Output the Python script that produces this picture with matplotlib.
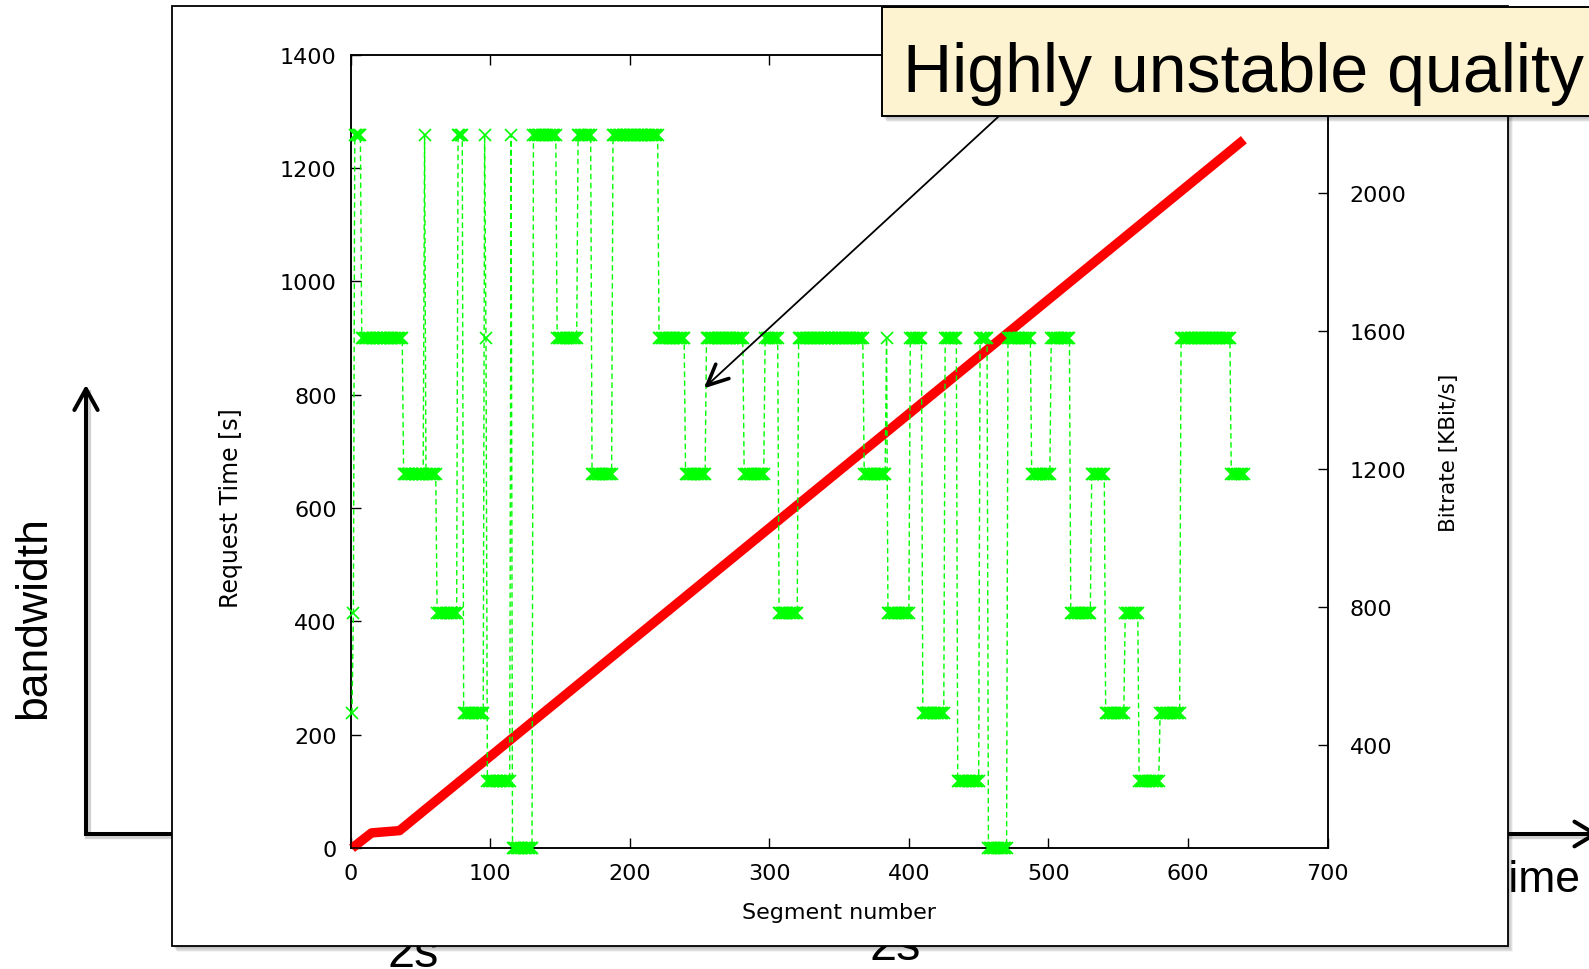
import numpy as np
import matplotlib

matplotlib.use("Agg")
import matplotlib.pyplot as plt
from matplotlib.patches import Rectangle
from matplotlib.lines import Line2D

W, H = 1589, 970

# request time of each segment (breakpoints of the red curve)
req_segments = [1, 15, 35, 640]
req_times = [0, 27, 31, 1250]

# selected bitrate, run-length coded: first segment of each run and its bitrate
run_starts = [1, 2, 3, 8, 38, 53, 54, 62, 77, 81, 96, 97, 98, 115, 116, 131,
              148, 163, 173, 188, 221, 240, 255, 282, 297, 307, 321, 368, 384,
              385, 401, 410, 426, 435, 451, 457, 471, 488, 502, 516, 531, 541,
              555, 565, 580, 595, 631]
run_rates = [491, 781, 2168, 1578, 1184, 2168, 1184, 781, 2168, 491, 2168, 1578,
             294, 2168, 100, 2168, 1578, 2168, 1184, 2168, 1578, 1184, 1578, 1184,
             1578, 781, 1578, 1184, 1578, 781, 1578, 491, 1578, 294, 1578, 100,
             1578, 1184, 1578, 781, 1184, 491, 781, 294, 491, 1578, 1184]
last_segment = 640

x_ticks = [0, 100, 200, 300, 400, 500, 600, 700]
y_ticks = [0, 200, 400, 600, 800, 1000, 1200, 1400]
y2_ticks = [400, 800, 1200, 1600, 2000]

plt.rcParams["font.family"] = ["DejaVu Sans"]
SLIDE_FONT = ["Liberation Sans", "DejaVu Sans"]


def pixel_layer(fig, zorder):
    a = fig.add_axes([0, 0, 1, 1], zorder=zorder)
    a.set_xlim(0, W)
    a.set_ylim(H, 0)
    a.axis("off")
    a.patch.set_visible(False)
    return a


def soft_shadow(a, x, y, w, h, zorder, steps=7):
    for i in range(steps, 0, -1):
        a.add_patch(Rectangle((x + i * 0.7, y + i * 0.9), w, h, facecolor="black",
                              edgecolor="none", alpha=0.045, zorder=zorder))


def chevron(a, tip, tail, length, half_angle, lw, zorder):
    tip = np.array(tip, float)
    d = np.array(tail, float) - tip
    d /= np.hypot(*d)
    for sgn in (-1, 1):
        t = np.radians(sgn * half_angle)
        rot = np.array([[np.cos(t), -np.sin(t)], [np.sin(t), np.cos(t)]])
        end = tip + length * rot @ d
        a.add_line(Line2D([tip[0], end[0]], [tip[1], end[1]], color="black", lw=lw,
                          solid_capstyle="round", zorder=zorder))


fig = plt.figure(figsize=(W / 100, H / 100), dpi=100)

# slide background: bandwidth/time axes, partly hidden behind the chart panel
bg = pixel_layer(fig, 0)
for dx, alpha, lw in [(2, 0.18, 4.5), (0, 1.0, 2.9)]:
    bg.add_line(Line2D([86 + dx, 86 + dx, 1590], [392 + dx, 835 + dx, 835 + dx],
                       color="black", alpha=alpha, lw=lw, solid_joinstyle="miter",
                       zorder=2))
chevron(bg, (86, 390), (86, 835), 24, 29, 2.9, 2)
chevron(bg, (1595, 835), (86, 835), 24, 31, 2.9, 2)
bg.text(34, 618, "bandwidth", rotation=90, ha="center", va="center", fontsize=32,
        family=SLIDE_FONT, zorder=2)
bg.text(1580, 892, "time", ha="right", va="baseline", fontsize=32,
        family=SLIDE_FONT, zorder=2)
bg.text(387, 967, "2s", ha="left", va="baseline", fontsize=35,
        family=SLIDE_FONT, zorder=2)
bg.text(870, 960, "2s", ha="left", va="baseline", fontsize=35,
        family=SLIDE_FONT, zorder=2)

# white panel holding the plot
soft_shadow(bg, 172, 7, 1336, 940, 4)
bg.add_patch(Rectangle((172, 7), 1336, 940, facecolor="white", edgecolor="black",
                       lw=1.3, zorder=5))

# the plot itself
ax = fig.add_axes([350.6 / W, 1 - 849.2 / H, 977 / W, 793.5 / H], zorder=1)
ax.patch.set_visible(False)
ax2 = ax.twinx()
ax2.patch.set_visible(False)

ends = run_starts[1:] + [last_segment + 1]
seg = np.concatenate([np.arange(s, e) for s, e in zip(run_starts, ends)])
rate = np.concatenate([np.full(e - s, r) for s, e, r in zip(run_starts, ends, run_rates)])

ax.plot(req_segments, req_times, color="#ff0000", lw=6.8, solid_capstyle="butt",
        clip_on=False, zorder=3)
ax2.plot(seg, rate, color="#00ff00", lw=1.0, ls=(0, (4, 2.5)), marker="x", ms=9,
         mew=1.2, clip_on=False, zorder=3)

ax.set_xlim(0, 700)
ax.set_ylim(0, 1400)
ax2.set_ylim(100, 2400)
ax.set_xticks(x_ticks)
ax.set_yticks(y_ticks)
ax2.set_yticks(y2_ticks)

for a in (ax, ax2):
    for sp in a.spines.values():
        sp.set_linewidth(1.1)
ax.tick_params(axis="x", direction="in", top=True, length=7, width=1.0,
               labelsize=16, pad=11)
ax.tick_params(axis="y", direction="in", right=False, length=7, width=1.0,
               labelsize=16, pad=10)
ax2.tick_params(axis="y", direction="in", length=7, width=1.0, labelsize=16, pad=16)

ax.set_xlabel("Segment number", fontsize=16)
ax.xaxis.set_label_coords(0.5, -0.068)
ax.set_ylabel("Request Time [s]", fontsize=17)
ax.yaxis.set_label_coords(-0.11, 0.43)
ax2.set_ylabel("Bitrate [KBit/s]", fontsize=15.5)
ax2.yaxis.set_label_coords(1.114, 0.5)

# callout on top of everything
top = pixel_layer(fig, 5)
soft_shadow(top, 882, 8, 800, 109, 1)
top.add_patch(Rectangle((882, 8), 800, 109, facecolor="#fdf3d1", edgecolor="black",
                        lw=1.4, zorder=2))
top.text(903, 92, "Highly unstable quality", ha="left", va="baseline", fontsize=49,
         family=SLIDE_FONT, zorder=3)
top.add_line(Line2D([998, 708], [118, 385.5], color="black", lw=1.3, zorder=3))
chevron(top, (707, 386.5), (998, 118), 23, 25, 2.6, 3)

fig.savefig("out.png", dpi=100)
